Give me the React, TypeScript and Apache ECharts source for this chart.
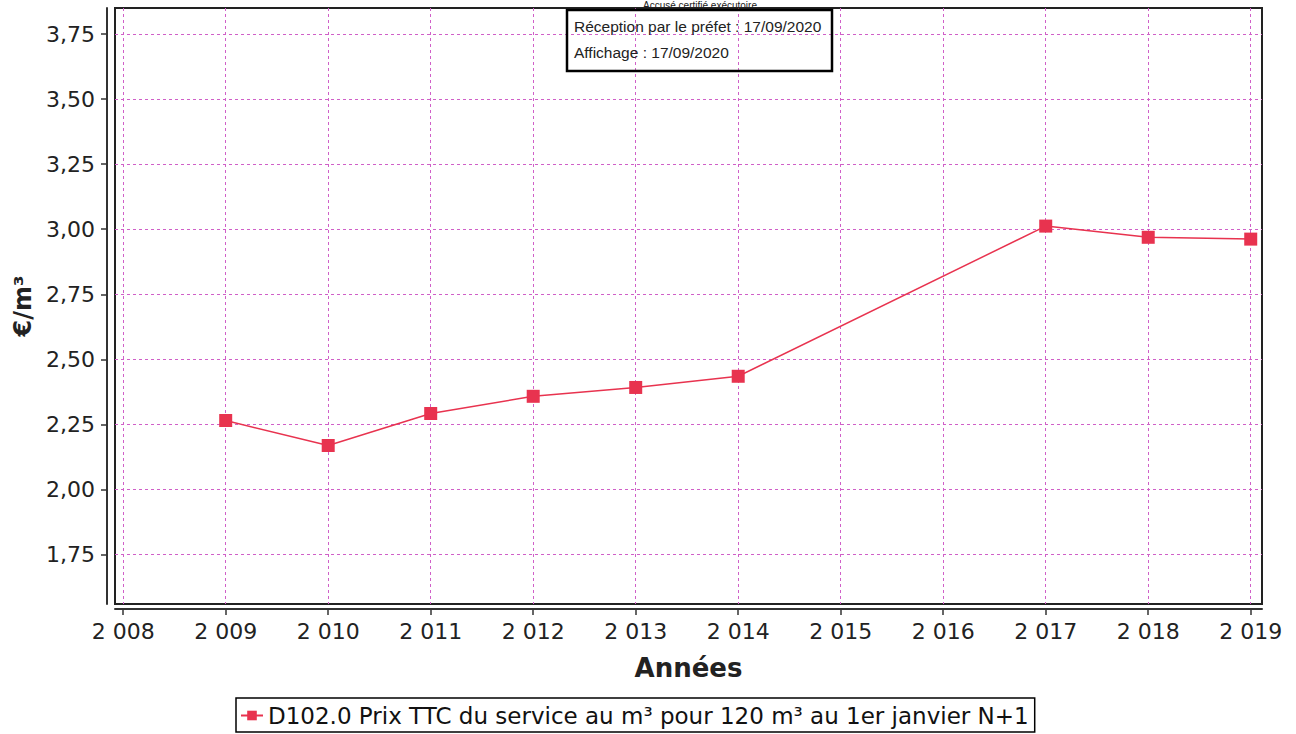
import React, { useEffect, useRef } from "react";
import * as echarts from "echarts";

const years = [2009, 2010, 2011, 2012, 2013, 2014, 2017, 2018, 2019];
const prices = [2.265, 2.169, 2.292, 2.358, 2.392, 2.435, 3.012, 2.969, 2.962];
const xTicks = [2008, 2009, 2010, 2011, 2012, 2013, 2014, 2015, 2016, 2017, 2018, 2019];
const yTicks = [1.75, 2.0, 2.25, 2.5, 2.75, 3.0, 3.25, 3.5, 3.75];
const seriesName = "D102.0 Prix TTC du service au m³ pour 120 m³ au 1er janvier N+1";
const stampLines = ["Réception par le préfet : 17/09/2020", "Affichage : 17/09/2020"];
const stampTitle = "Accusé certifié exécutoire";

const FONT = "DejaVu Sans";
const GRID_COLOR = "#d060c8";
const LINE_COLOR = "#e8334f";

export default function App() {
  const ref = useRef<HTMLDivElement>(null);
  useEffect(() => {
    if (!ref.current) return;
    const chart = echarts.init(ref.current, null, { renderer: "svg" });
    chart.setOption({
      animation: false,
      backgroundColor: "#ffffff",
      grid: {
        left: 115,
        right: 34,
        top: 8,
        bottom: 130,
        show: true,
        borderColor: "#222222",
        borderWidth: 2,
        backgroundColor: "transparent",
      },
      legend: {
        bottom: 2,
        left: 236,
        data: [seriesName],
        borderColor: "#000",
        borderWidth: 1.5,
        borderRadius: 0,
        padding: [6, 6, 5, 4],
        itemWidth: 22,
        itemHeight: 12,
        itemGap: 4,
        textStyle: { fontFamily: FONT, fontSize: 23, color: "#111" },
      },
      xAxis: {
        type: "value",
        min: 2007.92,
        max: 2019.11,
        offset: 5,
        name: "Années",
        nameLocation: "middle",
        nameGap: 46,
        nameTextStyle: { fontFamily: FONT, fontSize: 26, fontWeight: "bold", color: "#222" },
        axisLine: { show: true, lineStyle: { color: "#333", width: 2 } },
        axisTick: { show: true, length: 6, customValues: xTicks, lineStyle: { color: "#333", width: 1.5 } },
        axisLabel: {
          customValues: xTicks,
          fontFamily: FONT,
          fontSize: 22,
          color: "#222",
          margin: 11,
          formatter: (v: number) => String(Math.round(v)).replace(/(\d)(\d{3})$/, "$1 $2"),
        },
        splitLine: { show: true, lineStyle: { color: GRID_COLOR, type: [3, 3], width: 1 } },
      },
      yAxis: {
        type: "value",
        min: 1.56,
        max: 3.85,
        offset: 8,
        name: "€/m³",
        nameLocation: "middle",
        nameGap: 72,
        nameRotate: 90,
        nameTextStyle: { fontFamily: FONT, fontSize: 24, fontWeight: "bold", color: "#222" },
        axisLine: { show: true, lineStyle: { color: "#333", width: 2 } },
        axisTick: { show: true, length: 6, customValues: yTicks, lineStyle: { color: "#333", width: 1.5 } },
        axisLabel: {
          customValues: yTicks,
          fontFamily: FONT,
          fontSize: 22,
          color: "#222",
          margin: 12,
          formatter: (v: number) => v.toFixed(2).replace(".", ","),
        },
        splitLine: { show: true, lineStyle: { color: GRID_COLOR, type: [3, 3], width: 1 } },
      },
      series: [
        {
          name: seriesName,
          type: "line",
          data: years.map((y, i) => [y, prices[i]]),
          symbol: "rect",
          symbolSize: 13,
          itemStyle: { color: LINE_COLOR },
          lineStyle: { color: LINE_COLOR, width: 1.5 },
        },
      ],
      graphic: [
        {
          type: "text",
          x: 700,
          y: 0,
          style: {
            text: stampTitle,
            fontFamily: "Liberation Sans",
            fontSize: 10,
            fill: "#222",
            textAlign: "center",
            textVerticalAlign: "top",
          },
          z: 100,
        },
        {
          type: "rect",
          shape: { x: 567, y: 10, width: 265, height: 61 },
          style: { fill: "transparent", stroke: "#000", lineWidth: 2.5 },
          z: 100,
        },
        {
          type: "text",
          x: 574,
          y: 18,
          style: { text: stampLines[0], fontFamily: "Liberation Sans", fontSize: 15.5, fill: "#222" },
          z: 100,
        },
        {
          type: "text",
          x: 574,
          y: 44,
          style: { text: stampLines[1], fontFamily: "Liberation Sans", fontSize: 15.5, fill: "#222" },
          z: 100,
        },
      ],
    });
    return () => chart.dispose();
  }, []);
  return (
    <div
      ref={ref}
      style={{ position: "absolute", left: 0, top: 0, width: 1296, height: 734, background: "#fff" }}
    />
  );
}
